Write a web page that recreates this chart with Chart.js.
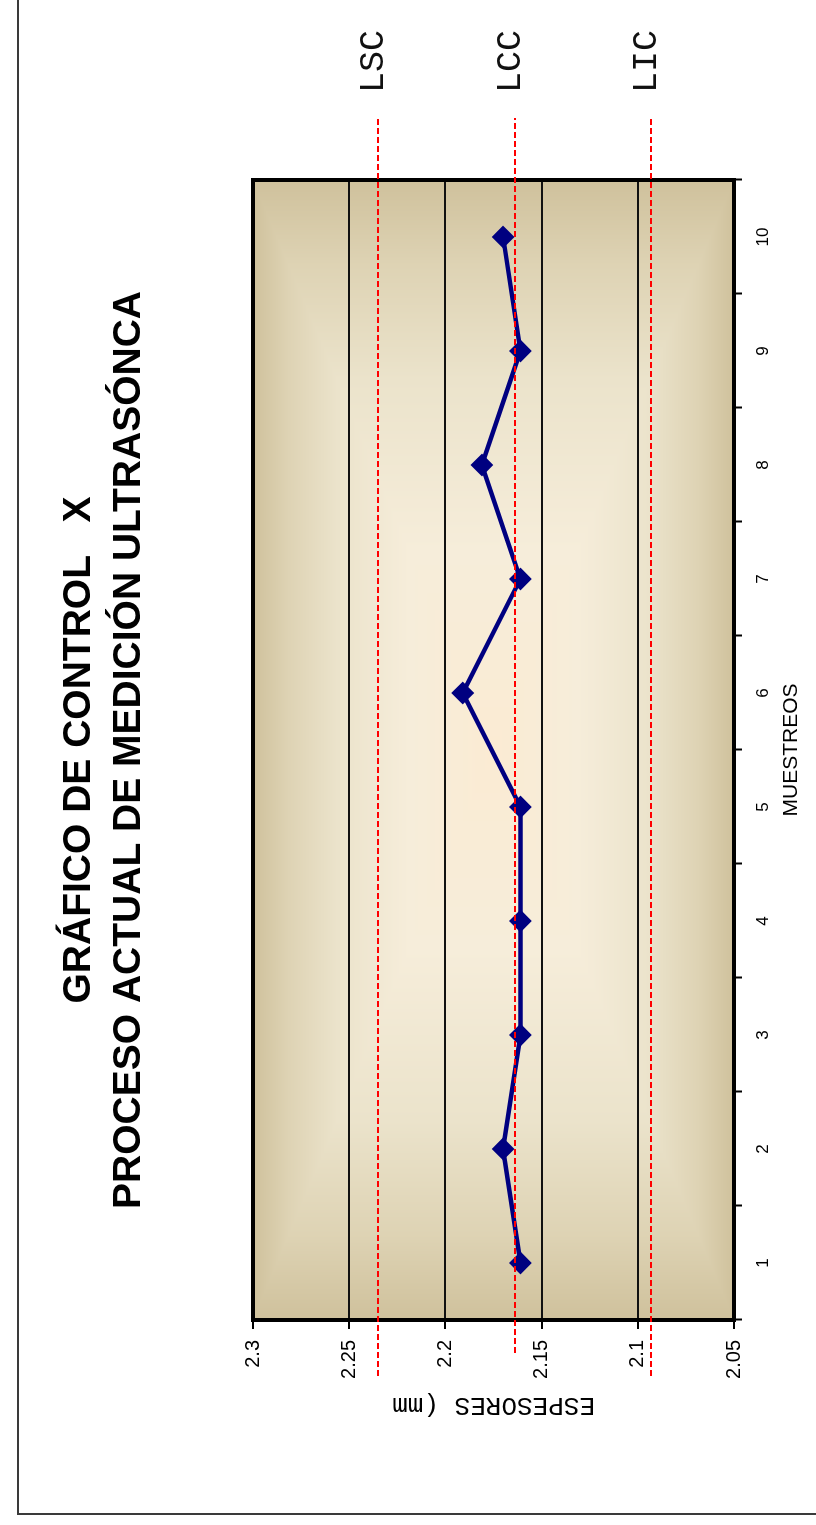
<!DOCTYPE html>
<html>
<head>
<meta charset="utf-8">
<title>Gráfico de control X</title>
<script src="https://cdn.jsdelivr.net/npm/chart.js@4.4.1/dist/chart.umd.min.js"></script>
<style>
  html, body { margin: 0; padding: 0; width: 816px; height: 1525px; overflow: hidden; background: #fff; }
  /* the sheet is laid out landscape and turned a quarter turn to stand upright */
  #sheet { position: absolute; left: 0; top: 1525px; width: 1525px; height: 816px;
           transform-origin: 0 0; transform: rotate(-90deg); }
  canvas { display: block; }
</style>
</head>
<body>
<div id="sheet"><canvas id="chart" width="1525" height="816"></canvas></div>
<script>
// ---- data ----
const categories = ['1', '2', '3', '4', '5', '6', '7', '8', '9', '10'];
const espesores = [2.161, 2.170, 2.161, 2.161, 2.161, 2.191, 2.161, 2.181, 2.161, 2.170];
const limitNames = ['LSC', 'LCC', 'LIC'];
const limitValues = [2.235, 2.164, 2.093];
const yTickValues = [2.05, 2.1, 2.15, 2.2, 2.25, 2.3];
const titleLines = ['GRÁFICO DE CONTROL   X', 'PROCESO ACTUAL DE MEDICIÓN ULTRASÓNCA'];
const xAxisTitle = 'MUESTREOS';
const yAxisTitle = 'ESPESORES (mm';

// ---- styling helpers ----
const SANS = "'Liberation Sans', Arial, sans-serif";
const MONO = "'Liberation Mono', 'Courier New', monospace";

// tan-to-cream fill of the plot area, shading from the centre outward
const bgStops = [
  [0.00, [251, 235, 211]],
  [0.35, [246, 237, 218]],
  [0.65, [235, 227, 203]],
  [0.85, [222, 211, 180]],
  [1.00, [207, 193, 156]]
];
function bgColour(t) {
  for (let i = 1; i < bgStops.length; i++) {
    if (t <= bgStops[i][0]) {
      const [t0, c0] = bgStops[i - 1], [t1, c1] = bgStops[i];
      const k = (t - t0) / (t1 - t0);
      return c0.map((c, j) => c + (c1[j] - c) * k);
    }
  }
  return bgStops[bgStops.length - 1][1];
}

const sheetFrame = {
  id: 'sheetFrame',
  beforeDraw(chart) {
    const ctx = chart.ctx;
    ctx.save();
    ctx.strokeStyle = '#3a3a3a';
    ctx.lineWidth = 2;
    ctx.beginPath();
    ctx.moveTo(11, chart.height);
    ctx.lineTo(11, 18);
    ctx.lineTo(chart.width, 18);
    ctx.stroke();
    ctx.restore();
  }
};

const plotBackground = {
  id: 'plotBackground',
  beforeDraw(chart) {
    const { ctx, chartArea: a } = chart;
    const w = Math.round(a.right - a.left), h = Math.round(a.bottom - a.top);
    const off = document.createElement('canvas');
    off.width = w; off.height = h;
    const octx = off.getContext('2d');
    const img = octx.createImageData(w, h);
    const cx = w / 2, cy = h / 2;
    for (let y = 0; y < h; y++) {
      for (let x = 0; x < w; x++) {
        const t = Math.max(Math.abs(x + 0.5 - cx) / cx, Math.abs(y + 0.5 - cy) / cy);
        const c = bgColour(Math.min(1, t));
        const p = (y * w + x) * 4;
        img.data[p] = c[0]; img.data[p + 1] = c[1]; img.data[p + 2] = c[2]; img.data[p + 3] = 255;
      }
    }
    octx.putImageData(img, 0, 0);
    ctx.drawImage(off, Math.round(a.left), Math.round(a.top));
  }
};

const plotBorder = {
  id: 'plotBorder',
  beforeDatasetsDraw(chart) {
    const { ctx, chartArea: a } = chart;
    ctx.save();
    ctx.strokeStyle = '#000';
    ctx.lineWidth = 4;
    ctx.strokeRect(a.left, a.top, a.right - a.left, a.bottom - a.top);
    ctx.restore();
  }
};

// dashed control limits with their names, running past the plot on both sides
const controlLimits = {
  id: 'controlLimits',
  afterDraw(chart, args, opts) {
    const { ctx, chartArea: a, scales: { y } } = chart;
    ctx.save();
    limitValues.forEach((v, i) => {
      const py = Math.round(y.getPixelForValue(v));
      ctx.strokeStyle = '#ff0000';
      ctx.lineWidth = 2;
      ctx.setLineDash([6, 3]);
      ctx.beginPath();
      ctx.moveTo(a.left - opts.lead[i], py);
      ctx.lineTo(a.right + 62, py);
      ctx.stroke();
      ctx.setLineDash([]);
      ctx.fillStyle = '#111';
      ctx.font = '35px ' + MONO;
      ctx.textAlign = 'left';
      ctx.textBaseline = 'alphabetic';
      ctx.fillText(limitNames[i], a.right + 87, py + 5);
    });
    ctx.restore();
  }
};

new Chart(document.getElementById('chart'), {
  type: 'line',
  data: {
    labels: categories,
    datasets: [{
      data: espesores,
      borderColor: '#000080',
      borderWidth: 4.5,
      backgroundColor: '#000080',
      pointStyle: 'rectRot',
      pointRadius: 10,
      pointBorderWidth: 2,
      pointBackgroundColor: '#000080',
      pointBorderColor: '#000080',
      tension: 0,
      fill: false
    }]
  },
  options: {
    responsive: false,
    animation: false,
    events: [],
    layout: { padding: { left: 20, right: 180, top: 0, bottom: 0 } },
    plugins: {
      legend: { display: false },
      tooltip: { enabled: false },
      title: {
        display: true,
        text: titleLines,
        fullSize: false,
        color: '#000',
        font: { family: SANS, size: 39, weight: 'bold', lineHeight: 1.2821 },
        padding: { top: 54, bottom: 99 }
      },
      controlLimits: { lead: [56, 33, 56] }
    },
    scales: {
      x: {
        type: 'category',
        offset: true,
        afterFit(s) { s.height = 82; },
        border: { display: false },
        grid: {
          offset: true,
          drawOnChartArea: false,
          drawTicks: true,
          tickLength: 8,
          tickWidth: 2,
          tickColor: '#000'
        },
        ticks: {
          color: '#000',
          font: { family: SANS, size: 17 },
          padding: 11,
          maxRotation: 0,
          autoSkip: false
        },
        title: {
          display: true,
          text: xAxisTitle,
          color: '#000',
          font: { family: SANS, size: 21 },
          padding: { top: 0, bottom: 12 }
        }
      },
      y: {
        min: 2.05,
        max: 2.3,
        afterBuildTicks(s) { s.ticks = yTickValues.map(v => ({ value: v })); },
        afterFit(s) { s.width = 185; },
        border: { display: false },
        grid: {
          color: '#111',
          lineWidth: 2,
          drawTicks: true,
          tickLength: 9,
          tickWidth: 2,
          tickColor: '#000'
        },
        ticks: {
          color: '#000',
          font: { family: SANS, size: 20 },
          padding: 11,
          callback: v => String(v)
        },
        title: {
          display: true,
          text: yAxisTitle,
          color: '#000',
          font: { family: MONO, size: 26 },
          padding: { top: 85, bottom: 0 }
        }
      }
    }
  },
  plugins: [sheetFrame, plotBackground, plotBorder, controlLimits]
});
</script>
</body>
</html>
